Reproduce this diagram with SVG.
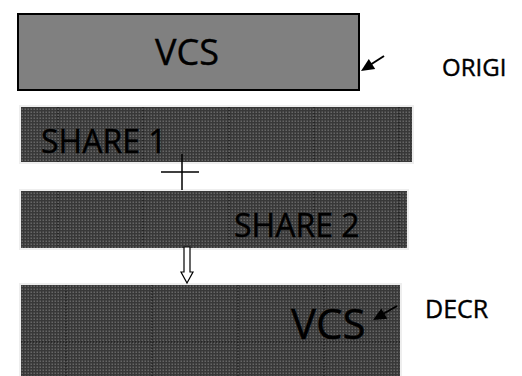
<svg xmlns="http://www.w3.org/2000/svg" width="522" height="376" viewBox="0 0 522 376">
<defs>
<pattern id="dots" width="3" height="3" patternUnits="userSpaceOnUse">
<rect width="3" height="3" fill="#383838"/>
<rect x="0.5" y="0.5" width="1.5" height="1.5" fill="#666"/>
</pattern>
<style>
.t{font-family:"Open Sans","Liberation Sans",sans-serif;fill:#000;stroke:#000;stroke-width:0.4}
.sh{fill:url(#dots);stroke:#eeeeee;stroke-width:2}
.grid{stroke:#151515;stroke-width:1;stroke-dasharray:1 2;fill:none}
.conn{stroke:#000;fill:none}
.head{fill:#000}
</style>
</defs>
<rect width="522" height="376" fill="#fff"/>
<g id="original">
<rect x="18" y="14" width="341" height="76" fill="#808080" stroke="#000" stroke-width="2"/>
<text class="t" x="187" y="65" font-size="36" text-anchor="middle">VCS</text>
</g>
<g id="share1">
<rect class="sh" x="20" y="106" width="393" height="57"/>
<path class="grid" d="M58,107V162M143,107V162M229,107V162M314,107V162M399,107V162"/>
<text class="t" x="41" y="153" font-size="32">SHARE 1</text>
</g>
<g id="share2">
<rect class="sh" x="20" y="190" width="388" height="59"/>
<path class="grid" d="M58,191V248M143,191V248M229,191V248M314,191V248M399,191V248"/>
<text class="t" x="234" y="237" font-size="32">SHARE 2</text>
</g>
<g id="decrypted">
<rect class="sh" x="20" y="284" width="381" height="100"/>
<path class="grid" d="M66,285V376M152,285V376M238,285V376M324,285V376M21,342H400"/>
<text class="t" x="291" y="339" font-size="42">VCS</text>
</g>
<g id="label-origi">
<text class="t" x="442" y="76" font-size="24">ORIGI</text>
</g>
<g id="label-decr">
<text class="t" x="425" y="318" font-size="25">DECR</text>
</g>
<g id="connectors">
<path class="conn" d="M384,56 L370,65" stroke-width="2"/>
<path class="head" d="M361,71 L375.2,69.1 L368.8,58.9Z"/>
<path class="conn" d="M397,306 L383,314" stroke-width="2"/>
<path class="head" d="M373,320 L387.3,318.8 L381.3,308.4Z"/>
<path class="conn" d="M161,172H199M182,154V190" stroke-width="1.5"/>
<path d="M184,247H190V272H193L187,283L181,272H184Z" fill="#fff" stroke="#000" stroke-width="1.2"/>
</g>
</svg>
